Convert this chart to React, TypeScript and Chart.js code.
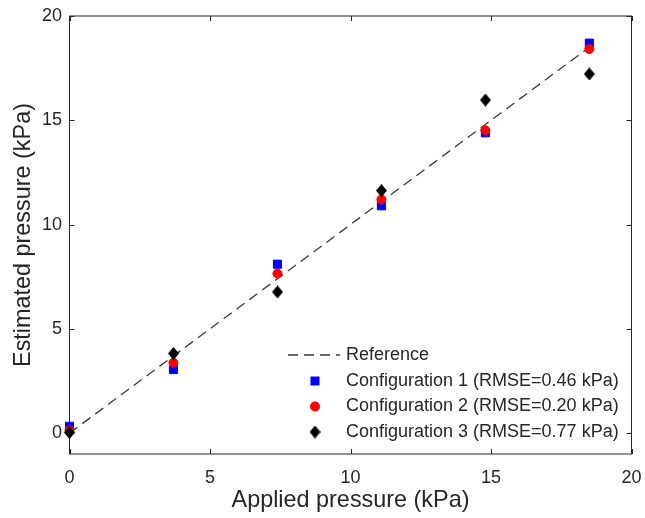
import { useEffect, useRef } from 'react';
import { Chart, registerables } from 'chart.js';

Chart.register(...registerables);

const appliedPressure = [0, 3.7, 7.4, 11.1, 14.8, 18.5];
const config1 = [0.33, 3.05, 8.1, 10.9, 14.4, 18.7];
const config2 = [0.13, 3.38, 7.65, 11.2, 14.52, 18.42];
const config3 = [0.03, 3.82, 6.77, 11.63, 15.97, 17.22];
const referenceX = [0, 18.5];
const referenceY = [0, 18.5];
const xTicks = [0, 5, 10, 15, 20];
const yTicks = [0, 5, 10, 15, 20];
const legendLabels = [
  'Reference',
  'Configuration 1 (RMSE=0.46 kPa)',
  'Configuration 2 (RMSE=0.20 kPa)',
  'Configuration 3 (RMSE=0.77 kPa)',
];

const AXIS = '#262626';
const FONT = '"Liberation Sans", Arial, Helvetica, sans-serif';

function makeDiamond(): HTMLCanvasElement {
  const c = document.createElement('canvas');
  c.width = 11;
  c.height = 13;
  const g = c.getContext('2d')!;
  g.fillStyle = '#000000';
  g.beginPath();
  g.moveTo(5.5, 0);
  g.lineTo(11, 6.5);
  g.lineTo(5.5, 13);
  g.lineTo(0, 6.5);
  g.closePath();
  g.fill();
  return c;
}

export default function App() {
  const ref = useRef<HTMLCanvasElement>(null);

  useEffect(() => {
    document.body.style.margin = '0';
    const diamond = makeDiamond();

    const framePlugin = {
      id: 'frame',
      beforeDatasetsDraw(chart: any) {
        const { ctx, chartArea } = chart;
        const { left, right, top, bottom } = chartArea;
        const xs = chart.scales.x;
        const ys = chart.scales.y;
        ctx.save();
        ctx.strokeStyle = AXIS;
        ctx.lineWidth = 1;
        ctx.strokeRect(left, top, right - left, bottom - top);
        const tl = 5;
        ctx.beginPath();
        for (const v of xTicks) {
          const px = Math.round(xs.getPixelForValue(v)) + 0.5;
          ctx.moveTo(px, bottom);
          ctx.lineTo(px, bottom - tl);
          ctx.moveTo(px, top);
          ctx.lineTo(px, top + tl);
        }
        for (const v of yTicks) {
          const py = Math.round(ys.getPixelForValue(v)) + 0.5;
          ctx.moveTo(left, py);
          ctx.lineTo(left + tl, py);
          ctx.moveTo(right, py);
          ctx.lineTo(right - tl, py);
        }
        ctx.stroke();
        ctx.restore();
      },
    };

    const legendPlugin = {
      id: 'insideLegend',
      afterDatasetsDraw(chart: any) {
        const { ctx } = chart;
        const rows = [355, 381, 406.5, 432];
        const lineX0 = 288;
        const lineX1 = 340;
        const markX = 315;
        const textX = 346;
        ctx.save();
        ctx.strokeStyle = '#3a3a3a';
        ctx.lineWidth = 1.3;
        ctx.setLineDash([10, 6]);
        ctx.beginPath();
        ctx.moveTo(lineX0, rows[0]);
        ctx.lineTo(lineX1, rows[0]);
        ctx.stroke();
        ctx.setLineDash([]);
        ctx.fillStyle = '#0000ff';
        ctx.fillRect(markX - 4.5, rows[1] - 4.5, 9, 9);
        ctx.fillStyle = '#ff0000';
        ctx.beginPath();
        ctx.arc(markX, rows[2], 5, 0, Math.PI * 2);
        ctx.fill();
        ctx.drawImage(diamond, markX - 5.5, rows[3] - 6.5);
        ctx.fillStyle = AXIS;
        ctx.font = `18px ${FONT}`;
        ctx.textAlign = 'left';
        ctx.textBaseline = 'middle';
        legendLabels.forEach((t, i) => ctx.fillText(t, textX, rows[i]));
        ctx.restore();
      },
    };

    const chart = new Chart(ref.current!, {
      type: 'scatter',
      data: {
        datasets: [
          {
            label: legendLabels[0],
            data: referenceX.map((x, i) => ({ x, y: referenceY[i] })),
            showLine: true,
            borderColor: '#3a3a3a',
            borderWidth: 1.3,
            borderDash: [10, 6],
            pointRadius: 0,
            order: 4,
            clip: false,
          } as any,
          {
            label: legendLabels[1],
            data: appliedPressure.map((x, i) => ({ x, y: config1[i] })),
            pointStyle: 'rect',
            pointRadius: 5.7,
            backgroundColor: '#0000ff',
            borderColor: '#0000ff',
            borderWidth: 1,
            order: 3,
            clip: false,
          },
          {
            label: legendLabels[2],
            data: appliedPressure.map((x, i) => ({ x, y: config2[i] })),
            pointStyle: 'circle',
            pointRadius: 4.5,
            backgroundColor: '#ff0000',
            borderColor: '#ff0000',
            borderWidth: 1,
            order: 2,
            clip: false,
          },
          {
            label: legendLabels[3],
            data: appliedPressure.map((x, i) => ({ x, y: config3[i] })),
            pointStyle: diamond,
            pointRadius: 6,
            backgroundColor: '#000000',
            borderColor: '#000000',
            borderWidth: 0,
            order: 1,
            clip: false,
          },
        ],
      },
      options: {
        animation: false,
        responsive: false,
        layout: { padding: { left: 0, right: 13.5, top: 16, bottom: 0 } },
        plugins: { legend: { display: false }, tooltip: { enabled: false } },
        scales: {
          x: {
            type: 'linear',
            min: 0,
            max: 20,
            afterBuildTicks: (s: any) => {
              s.ticks = xTicks.map((v) => ({ value: v }));
            },
            afterFit: (s: any) => {
              s.height = 64;
              s.paddingLeft = 0;
              s.paddingRight = 0;
            },
            grid: { display: false, drawTicks: false, tickLength: 0 },
            border: { display: false },
            ticks: { color: AXIS, font: { family: FONT, size: 18 }, padding: 13, maxRotation: 0 },
            title: {
              display: true,
              text: 'Applied pressure (kPa)',
              color: AXIS,
              font: { family: FONT, size: 23.4 },
              padding: { top: 0, bottom: 3 },
            },
          },
          y: {
            type: 'linear',
            min: -1,
            max: 20,
            afterBuildTicks: (s: any) => {
              s.ticks = yTicks.map((v) => ({ value: v }));
            },
            afterFit: (s: any) => {
              s.width = 69.5;
              s.paddingTop = 0;
              s.paddingBottom = 0;
            },
            grid: { display: false, drawTicks: false, tickLength: 0 },
            border: { display: false },
            ticks: { color: AXIS, font: { family: FONT, size: 18 }, padding: 7.5 },
            title: {
              display: true,
              text: 'Estimated pressure (kPa)',
              color: AXIS,
              font: { family: FONT, size: 23.4 },
              padding: { top: 10, bottom: 0 },
            },
          },
        },
      },
      plugins: [framePlugin, legendPlugin],
    });

    return () => chart.destroy();
  }, []);

  return <canvas ref={ref} width={645} height={518} style={{ display: 'block' }} />;
}
